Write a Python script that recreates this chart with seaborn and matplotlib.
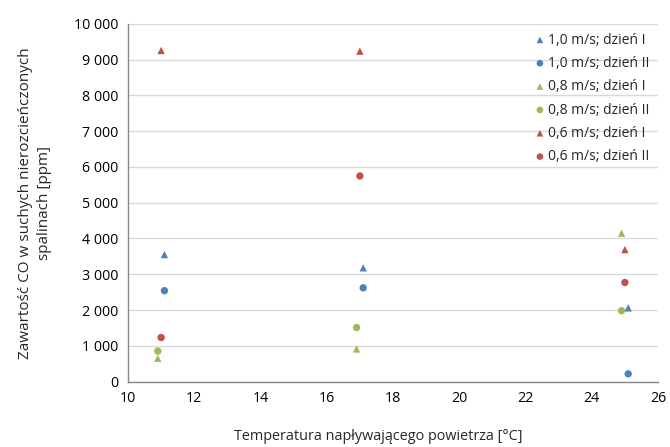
import matplotlib
matplotlib.use("Agg")
import matplotlib.pyplot as plt
import matplotlib.ticker as mticker
import seaborn as sns
import pandas as pd

labels = ["1,0 m/s; dzień I", "1,0 m/s; dzień II",
          "0,8 m/s; dzień I", "0,8 m/s; dzień II",
          "0,6 m/s; dzień I", "0,6 m/s; dzień II"]
x_v10 = [11.1, 17.1, 25.1]
x_v08 = [10.9, 16.9, 24.9]
x_v06 = [11.0, 17.0, 25.0]
y_10_I = [3550, 3180, 2060]
y_10_II = [2540, 2620, 215]
y_08_I = [650, 910, 4150]
y_08_II = [850, 1510, 1980]
y_06_I = [9260, 9240, 3690]
y_06_II = [1230, 5750, 2770]

colors = ["#4F81BD", "#4F81BD", "#9BBB59", "#9BBB59", "#C0504D", "#C0504D"]
markers = ["^", "o", "^", "o", "^", "o"]
xs = [x_v10, x_v10, x_v08, x_v08, x_v06, x_v06]
ys = [y_10_I, y_10_II, y_08_I, y_08_II, y_06_I, y_06_II]

sns.set_style("white")
plt.rcParams['font.family'] = ['Open Sans', 'DejaVu Sans']

fig = plt.figure(figsize=(6.7, 4.47), dpi=100)
ax = fig.add_axes([128/670, 1-381.5/447, (658-128)/670, (381.5-24)/447])

for lab, c, m, xv, yv in zip(labels, colors, markers, xs, ys):
    df = pd.DataFrame({"x": xv, "y": yv})
    sns.scatterplot(data=df, x="x", y="y", marker=m, color=c, s=28,
                    edgecolor="none", linewidth=0, label=lab, ax=ax)

ax.set_xlim(10, 26)
ax.set_ylim(0, 10000)
ax.set_xticks(range(10, 27, 2))
ax.set_yticks(range(0, 10001, 1000))
ax.yaxis.set_major_formatter(mticker.FuncFormatter(
    lambda v, p: f"{int(v):,}".replace(",", " ")))
ax.grid(axis="y", color="#D9D9D9", linewidth=1)
ax.set_axisbelow(True)
for s in ["top", "right"]:
    ax.spines[s].set_visible(False)
for s in ["left", "bottom"]:
    ax.spines[s].set_color("#868686")
    ax.spines[s].set_linewidth(1)
ax.tick_params(axis="both", direction="out", length=4, width=1,
               color="#868686", labelsize=10.3, labelcolor="#000000", pad=3)
ax.set_xlabel("Temperatura napływającego powietrza [°C]", fontsize=10.4)
ax.xaxis.set_label_coords((378-128)/530, -(437-381.5)/357.5 + 0.0)
ax.xaxis.label.set_va("center")
ax.set_ylabel("Zawartość CO w suchych nierozcieńczonych\nspalinach [ppm]",
              fontsize=11, labelpad=16, linespacing=1.3)

leg = ax.legend(loc="upper left", bbox_to_anchor=(526/670, 1-27/447),
                bbox_transform=fig.transFigure, frameon=False, fontsize=10,
                labelspacing=0.6, handletextpad=0.0, markerscale=0.9,
                handlelength=1.2, borderaxespad=0)

fig.savefig("out.png", dpi=100)
